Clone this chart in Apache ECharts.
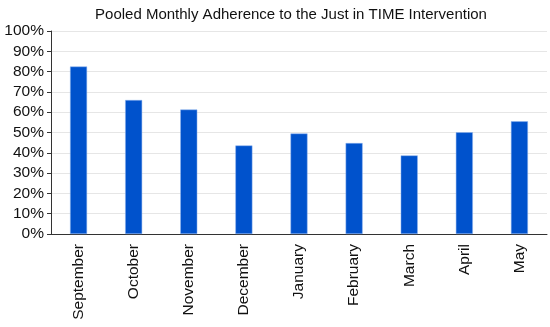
<!DOCTYPE html>
<html><head><meta charset="utf-8">
<script src="https://cdn.jsdelivr.net/npm/echarts@6/dist/echarts.min.js"></script>
<style>html,body{margin:0;padding:0;background:#fff}#c{width:550px;height:327px}</style>
</head><body><div id="c"></div>
<script>
const titleText = 'Pooled Monthly Adherence to the Just in TIME Intervention';
const categories = ['September','October','November','December','January','February','March','April','May'];
const adherence = [82.5, 66.0, 61.3, 43.6, 49.5, 44.8, 38.7, 50.1, 55.5];
const yTicks = [0,10,20,30,40,50,60,70,80,90,100];

const chart = echarts.init(document.getElementById('c'), null, {renderer:'canvas'});
const font = '"Liberation Sans", Arial, sans-serif';
chart.setOption({
  animation:false,
  title:{text:titleText, left:286, textAlign:'center', top:2,
    textStyle:{fontFamily:font, fontSize:15, fontWeight:'normal', color:'#111'}},
  grid:{left:51, right:3, top:31, bottom:93, containLabel:false},
  xAxis:{type:'category', data:categories,
    axisLine:{lineStyle:{color:'#333', width:1}},
    axisTick:{show:false},
    axisLabel:{rotate:90, fontFamily:font, fontSize:15.5, color:'#111', margin:10}},
  yAxis:{type:'value', min:yTicks[0], max:yTicks[yTicks.length-1], interval:10,
    axisLine:{show:true, lineStyle:{color:'#333', width:1}},
    axisTick:{show:true, length:4, lineStyle:{color:'#333'}},
    splitLine:{lineStyle:{color:'#e6e6e6', width:1}},
    axisLabel:{formatter:'{value}%', fontFamily:font, fontSize:15.5, color:'#111', margin:7}},
  series:[{type:'bar', data:adherence, barWidth:17,
    itemStyle:{color:'#0052cc', borderColor:'#8fb4ee', borderWidth:0.5}}]
});
</script></body></html>
